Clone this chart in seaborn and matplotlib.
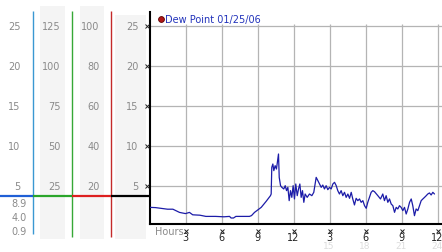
import matplotlib
matplotlib.use("Agg")
import matplotlib.pyplot as plt
import matplotlib.transforms as mtransforms
import seaborn as sns
import numpy as np

# ---------------- data ----------------
hours = [0.0, 0.5, 1.0, 1.5, 1.95, 2.5, 3.0, 3.33, 3.6, 4.2, 4.7, 5.5, 6.2, 6.67, 6.8, 7.0, 7.2,
         7.8, 8.33, 8.5, 8.75, 9.31, 9.72, 10.08, 10.14, 10.19, 10.28, 10.36, 10.47, 10.58,
         10.75, 10.81, 10.92, 11.03, 11.19, 11.31, 11.42, 11.53, 11.64, 11.75, 11.86, 11.97,
         12.08, 12.19, 12.31, 12.42, 12.53, 12.64, 12.75, 12.86, 12.97, 13.14, 13.33, 13.53,
         13.69, 13.89, 14.03,
         14.17, 14.31, 14.44, 14.58, 14.72, 14.86, 15.0, 15.14, 15.28, 15.42, 15.56, 15.69,
         15.83, 15.97, 16.11, 16.25, 16.39, 16.53, 16.67, 16.81, 16.94, 17.08, 17.22, 17.36,
         17.5, 17.64, 17.78, 17.92, 18.06, 18.19, 18.33, 18.47, 18.61, 18.75,
         19.03, 19.25, 19.44, 19.58, 19.72, 19.86, 20.0, 20.14, 20.28, 20.42, 20.56, 20.69,
         20.83, 20.97, 21.11, 21.25, 21.39, 21.53, 21.67, 21.81, 21.94, 22.08, 22.22, 22.36,
         22.5, 22.64, 22.78, 22.92, 23.06, 23.19, 23.33, 23.47, 23.61, 23.75]
dew_point = [2.33, 2.3, 2.2, 2.1, 2.1, 1.7, 1.55, 1.7, 1.4, 1.35, 1.2, 1.2, 1.15, 1.2, 1.0, 1.0, 1.2,
             1.2, 1.2, 1.3, 1.7, 2.33, 3.08, 3.79, 4.0, 7.33, 7.75, 6.92, 7.54, 7.12,
             9.0, 6.08, 5.04, 4.83, 4.63, 5.04, 4.42, 4.83, 3.17, 4.42, 3.58, 5.04,
             3.38, 5.25, 3.79, 4.63, 5.25, 3.58, 4.42, 2.96, 4.0, 3.58, 4.0, 3.79,
             4.21, 6.08, 5.67,
             5.25, 4.83, 5.12, 4.63, 5.04, 4.54, 4.83, 4.63, 5.25, 5.46, 5.04, 4.42,
             4.0, 4.42, 3.79, 4.21, 3.58, 4.0, 3.46, 4.21, 3.38, 2.63, 3.46, 3.17,
             3.38, 2.96, 3.17, 2.54, 2.21, 2.96, 3.58, 4.21, 4.42, 4.29,
             3.79, 3.38, 4.0, 3.17, 3.79, 2.96, 3.38, 2.75, 2.54, 1.71, 2.33, 2.13,
             2.54, 2.33, 1.92, 2.33, 1.5, 2.13, 2.96, 3.38, 2.54, 1.29, 2.13, 1.92,
             2.54, 3.17, 3.38, 3.58, 3.79, 4.0, 4.13, 3.88, 4.21, 4.0]

series_label = "Dew Point 01/25/06"
y_ticks = [5, 10, 15, 20, 25]
x_ticks = [3, 6, 9, 12, 15, 18, 21, 24]
x_tick_labels = ["3", "6", "9", "12", "3", "6", "9", "12"]
x_ticks_24 = [15, 18, 21, 24]
x_tick_labels_24 = ["15", "18", "21", "24"]

gauge_levels = [25, 20, 15, 10, 5]
gauge_col1 = ["25", "20", "15", "10", "5"]
gauge_col2 = ["125", "100", "75", "50", "25"]
gauge_col3 = ["100", "80", "60", "40", "20"]
gauge_col4 = ["25", "20", "15", "10", "5"]
readout_labels = ["8.9", "4.0", "0.9"]
indicator_level = 3.8

# ---------------- style ----------------
sns.set_style("white")
plt.rcParams["font.family"] = ["DejaVu Sans"]

W, H = 442, 253
fig = plt.figure(figsize=(W / 100, H / 100), dpi=100)
fig.patch.set_facecolor("white")

def px_box(x0, y0, x1, y1):
    return [x0 / W, 1 - y1 / H, (x1 - x0) / W, (y1 - y0) / H]

PX_PER_H = 12.0
PX_PER_V = 8.0
X0_PX, Y0_PX = 149.5, 227.0  # pixel positions of hour 0 / value 0

# ---------- left gauge panel ----------
axL = fig.add_axes([0, 0, X0_PX / W, 1])
axL.set_xlim(0, X0_PX)
axL.set_ylim((Y0_PX - H) / PX_PER_V, Y0_PX / PX_PER_V)
axL.axis("off")

def pv(ypx):
    return (Y0_PX - ypx) / PX_PER_V

shade = "#f4f4f4"
for (xa, xb, ya, yb) in [(40, 65, 7, 240), (80, 104, 7, 240), (115, 146, 16, 240)]:
    axL.fill_between([xa, xb], pv(yb), pv(ya), color=shade, lw=0, zorder=0)

axL.vlines(33, pv(235), pv(12), color="#3a98d2", lw=1.0, zorder=2)
axL.vlines(72, pv(238), pv(12), color="#36a836", lw=1.0, zorder=2)
axL.vlines(111, pv(238), pv(12), color="#c42a2a", lw=1.0, zorder=2)

seg_colors = ["#1f5fd6", "#2aa52a", "#dd1f1f", "#000000"]
seg_edges = [0, 33, 72, 111, X0_PX]
for c, a, b in zip(seg_colors, seg_edges[:-1], seg_edges[1:]):
    axL.hlines(indicator_level, a, b, color=c, lw=1.6, zorder=3)

gcol = "#8a8a8a"
for lvl, a, b, c, d in zip(gauge_levels, gauge_col1, gauge_col2, gauge_col3, gauge_col4):
    axL.text(20.5, lvl, a, ha="right", va="center", fontsize=7, color=gcol)
    axL.text(60.5, lvl, b, ha="right", va="center", fontsize=7, color=gcol)
    axL.text(99.5, lvl, c, ha="right", va="center", fontsize=7, color=gcol)
    axL.text(138.5, lvl, d, ha="right", va="center", fontsize=7, color=gcol)

for ypx, txt in zip([204, 218.5, 232], readout_labels):
    axL.text(27, pv(ypx), txt, ha="right", va="center", fontsize=7, color=gcol)

# ---------- main chart ----------
ax = fig.add_axes(px_box(X0_PX, 13, W, 225))
ax.set_xlim(0, (W - X0_PX) / PX_PER_H)
ax.set_ylim(pv(225), pv(13))
ax.set_facecolor("white")

grid_c = "#b4b4b4"
for yt in y_ticks:
    ax.axhline(yt, color=grid_c, lw=0.9, zorder=1)
ax.vlines(x_ticks, pv(225), pv(25), color=grid_c, lw=0.9, zorder=1)

sns.lineplot(x=hours, y=dew_point, ax=ax, color="#1c1ca8", lw=0.9, zorder=3)

for s in ["top", "right"]:
    ax.spines[s].set_visible(False)
for s in ["left", "bottom"]:
    ax.spines[s].set_color("black")
    ax.spines[s].set_linewidth(1.5)
ax.set_xticks([])
ax.set_yticks([])
ax.set_xlabel("")
ax.set_ylabel("")

ax_h = 225 - 13
ax_w = W - X0_PX
tr_x = mtransforms.blended_transform_factory(ax.transData, ax.transAxes)
tr_y = mtransforms.blended_transform_factory(ax.transAxes, ax.transData)

# y-axis star marks
ax.plot([-2.5 / ax_w] * len(y_ticks), y_ticks, ls="none", marker="x", ms=2.5, mew=0.7,
        color="#222222", transform=tr_y, clip_on=False, zorder=4)
# x-axis star marks and labels
ax.plot(x_ticks, [-6.5 / ax_h] * len(x_ticks), ls="none", marker="x", ms=2.5, mew=0.7,
        color="#222222", transform=tr_x, clip_on=False)
for xt, lab in zip(x_ticks, x_tick_labels):
    ax.text(xt - 0.04, -13.2 / ax_h, lab, transform=tr_x, ha="center", va="center",
            fontsize=7, color="#222222", clip_on=False)
for xt, lab in zip(x_ticks_24, x_tick_labels_24):
    ax.text(xt - 0.04, -21.8 / ax_h, lab, transform=tr_x, ha="center", va="center",
            fontsize=6.5, color="#dcdcdc", clip_on=False)
ax.text(5.5 / ax_w, -7 / ax_h, "Hours", transform=ax.transAxes, ha="left", va="center",
        fontsize=7, color="#8a8a8a", clip_on=False)

# legend-like title
ax.plot([(161 - X0_PX) / ax_w], [(225 - 20) / ax_h], marker="o", ms=4.2, color="#b01818",
        mec="#5a0000", mew=0.6, transform=ax.transAxes, clip_on=False, zorder=5)
ax.text((165 - X0_PX) / ax_w, (225 - 20) / ax_h, series_label, transform=ax.transAxes,
        ha="left", va="center", fontsize=7, color="#2233bb", clip_on=False, zorder=5)

fig.savefig("out.png", dpi=100)
